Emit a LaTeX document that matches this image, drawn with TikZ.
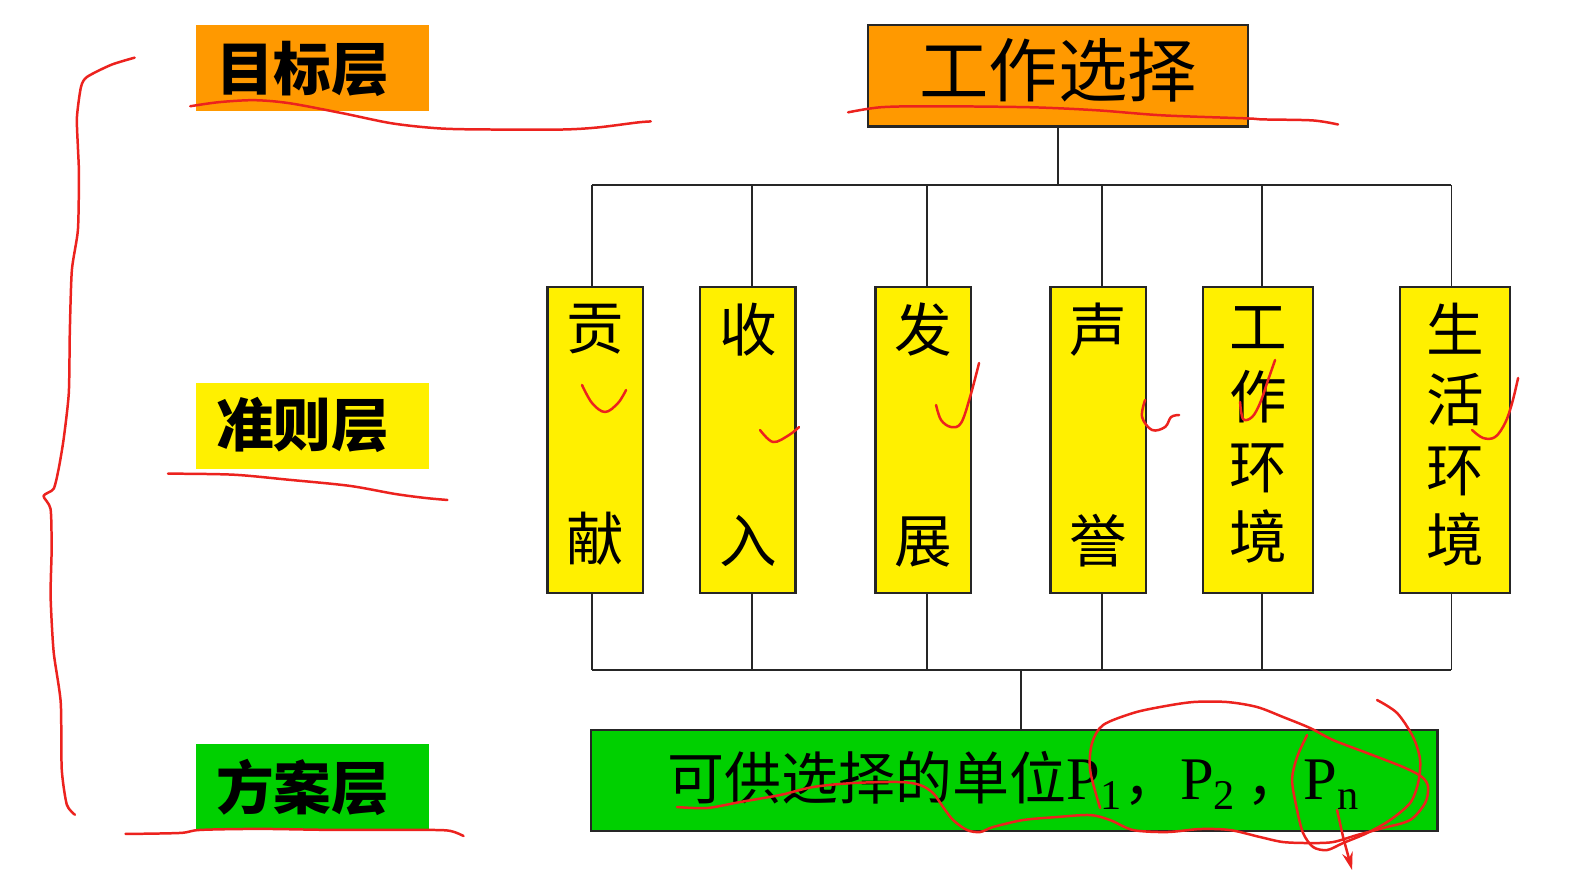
\documentclass[tikz,border=0pt]{standalone}
\usepackage{fontspec}
\setmainfont{Liberation Serif}
\newfontfamily\cjk{Noto Sans CJK SC}
\usetikzlibrary{arrows.meta}

\definecolor{goalorange}{RGB}{255,153,0}
\definecolor{crityellow}{RGB}{255,240,0}
\definecolor{altgreen}{RGB}{0,208,0}
\definecolor{pen}{RGB}{236,34,30}

\tikzset{
  wire/.style={draw=black!85, line width=0.45pt},
  layerbox/.style={rectangle, inner sep=0pt, minimum width=2.30cm, minimum height=0.85cm},
  layertext/.style={inner sep=0pt, font=\cjk\bfseries\fontsize{16.2pt}{18pt}\selectfont},
  critbox/.style={rectangle, draw=black!85, line width=0.6pt, fill=crityellow, inner sep=0pt,
    minimum height=3.02cm},
  crittext/.style={inner sep=0pt, align=center, yshift=1.5pt,
    font=\cjk\fontsize{16.2pt}{19.7pt}\selectfont},
  penstroke/.style={draw=pen, line width=0.7pt, line cap=round, line join=round}
}

\begin{document}
\begin{tikzpicture}[x=0.01cm, y=-0.01cm]
\useasboundingbox (0,0) rectangle (1568,871);
\fill[white] (0,0) rectangle (1568,871);

% layer labels on the left
\node[layerbox, fill=goalorange] (goal) at (309,67.5) {};
\node[layertext] (goalT) at (299,68) {目标层};
\node[layerbox, fill=crityellow] (crit) at (309,420.5) {};
\node[layertext] (critT) at (299,420) {准则层};
\node[layerbox, fill=altgreen] (alt) at (309,778) {};
\node[layertext] (altT) at (299,778) {方案层};

% goal
\node[rectangle, draw=black!85, line width=0.6pt, fill=goalorange, inner sep=0pt,
      minimum width=3.75cm, minimum height=1.0cm] (job) at (1045.5,75) {};
\node[inner sep=0pt, yshift=1.5pt, font=\cjk\fontsize{19.5pt}{22pt}\selectfont] (jobT) at (job) {工作选择};

% criteria
\node[critbox, minimum width=0.94cm] (c1) at (588,435) {};
\node[critbox, minimum width=0.94cm] (c2) at (739,435) {};
\node[critbox, minimum width=0.94cm] (c3) at (912,435) {};
\node[critbox, minimum width=0.94cm] (c4) at (1085,435) {};
\node[critbox, minimum width=1.08cm] (c5) at (1243,435) {};
\node[critbox, minimum width=1.09cm] (c6) at (1437.5,435) {};
\node[crittext] (c1t) at (c1) {贡\\[39.4pt]献};
\node[crittext] (c2t) at (c2) {收\\[39.4pt]入};
\node[crittext] (c3t) at (c3) {发\\[39.4pt]展};
\node[crittext] (c4t) at (c4) {声\\[39.4pt]誉};
\node[crittext] (c5t) at (c5) {工\\作\\环\\境};
\node[crittext] (c6t) at (c6) {生\\活\\环\\境};

% alternatives
\node[rectangle, draw=black!85, line width=0.6pt, fill=altgreen, inner sep=0pt,
      minimum width=8.36cm, minimum height=1.0cm] (units) at (1002,771)
  {{\cjk\fontsize{16pt}{18pt}\selectfont 可供选择的单位}{\fontsize{17pt}{18pt}\selectfont P\textsubscript{1}{\cjk\fontsize{16pt}{18pt}\selectfont ，}P\textsubscript{2}\,{\cjk\fontsize{16pt}{18pt}\selectfont ，}P\textsubscript{n}}};

% hierarchy connectors
\coordinate (jobbus) at (1046,183);
\draw[wire] (job.south) -- (job.south |- jobbus);
\foreach \i/\x in {1/585, 2/743, 3/916, 4/1089, 5/1247, 6/1434} {
  \coordinate (t\i) at (\x,183);
  \coordinate (b\i) at (\x,662);
}
\draw[wire] (t1) -- (t6);
\draw[wire] (b1) -- (b6);
\foreach \i in {1,...,6} {
  \draw[wire] (t\i) -- (t\i |- c\i.north);
  \draw[wire] (c\i.south -| b\i) -- (b\i);
}
\coordinate (unitsbus) at (1009,662);
\draw[wire] (unitsbus) -- (unitsbus |- units.north);

% pen annotations: brace and underlines
\draw[penstroke] plot[smooth, tension=0.4] coordinates {
  (133,57) (110,64) (86,76) (80,86) (76,116) (77,146) (78,172) (77,227) (71,267)
  (69,327) (68,388) (63,433) (58,463) (53,483) (43,490) (50,503) (51,543) (50,589)
  (53,644) (60,694) (61,760) (66,795) (74,805)};
\draw[penstroke] plot[smooth, tension=0.5] coordinates {
  (188,105) (216,101) (251,99) (286,102) (339,112) (388,122) (436,127) (489,128)
  (555,128) (590,126) (630,121) (643,120)};
\draw[penstroke] plot[smooth, tension=0.5] coordinates {
  (166,468) (230,469) (285,474) (345,480) (390,488) (420,492) (442,494)};
\draw[penstroke] plot[smooth, tension=0.5] coordinates {
  (124,824) (178,823) (198,820) (257,819) (330,820) (422,820) (445,821) (458,826)};
\draw[penstroke] plot[smooth, tension=0.5] coordinates {
  (838,111) (870,106) (919,105) (1018,106) (1084,109) (1149,114) (1232,117)
  (1248,118) (1297,119) (1322,123)};

\begin{scope}[scale=0.9881]
% ticks on the criteria
\draw[penstroke] plot[smooth, tension=0.6] coordinates {
  (582,385) (592,403) (605,412) (618,403) (626,390)};
\draw[penstroke] plot[smooth, tension=0.6] coordinates {
  (760,430) (773,442) (789,435) (799,427)};
\draw[penstroke] plot[smooth, tension=0.6] coordinates {
  (936,405) (941,420) (951,427) (961,423) (970,397) (979,363)};
\draw[penstroke] plot[smooth, tension=0.6] coordinates {
  (1145,400) (1142,417) (1152,430) (1165,427) (1171,417) (1179,415)};
\draw[penstroke] plot[smooth, tension=0.6] coordinates {
  (1240,402) (1243,419) (1252,417) (1260,403) (1268,380) (1275,360)};
\draw[penstroke] plot[smooth, tension=0.6] coordinates {
  (1472,430) (1483,438) (1495,437) (1505,423) (1512,403) (1518,378)};

% strokes over the alternatives
\draw[penstroke] plot[smooth, tension=0.5] coordinates {
  (677,807) (707,808) (740,802) (780,795) (813,787) (853,783) (900,782) (920,785)
  (933,793) (943,807) (953,820) (967,830) (980,832) (993,827) (1023,820) (1057,817)
  (1090,815) (1110,820) (1133,830) (1167,832) (1200,829) (1230,830) (1260,837)
  (1283,842) (1310,843) (1333,842) (1357,835) (1383,828) (1410,820) (1425,803)
  (1428,787) (1422,777) (1403,767) (1367,753) (1333,740) (1310,728) (1283,717)
  (1257,707) (1227,702) (1193,702) (1160,707) (1133,713) (1103,725) (1092,743)
  (1090,770) (1100,808)};
\draw[penstroke] plot[smooth, tension=0.5] coordinates {
  (1377,700) (1397,713) (1413,737) (1420,760) (1418,783) (1410,803) (1390,820)
  (1367,833) (1343,843) (1327,850) (1313,847) (1303,833) (1297,810) (1292,780)
  (1297,757) (1307,735)};
\draw[penstroke, -{Stealth[length=5pt, width=3pt]}] (1337,810) -- (1343,837) -- (1352,870);
\end{scope}
\end{tikzpicture}
\end{document}
